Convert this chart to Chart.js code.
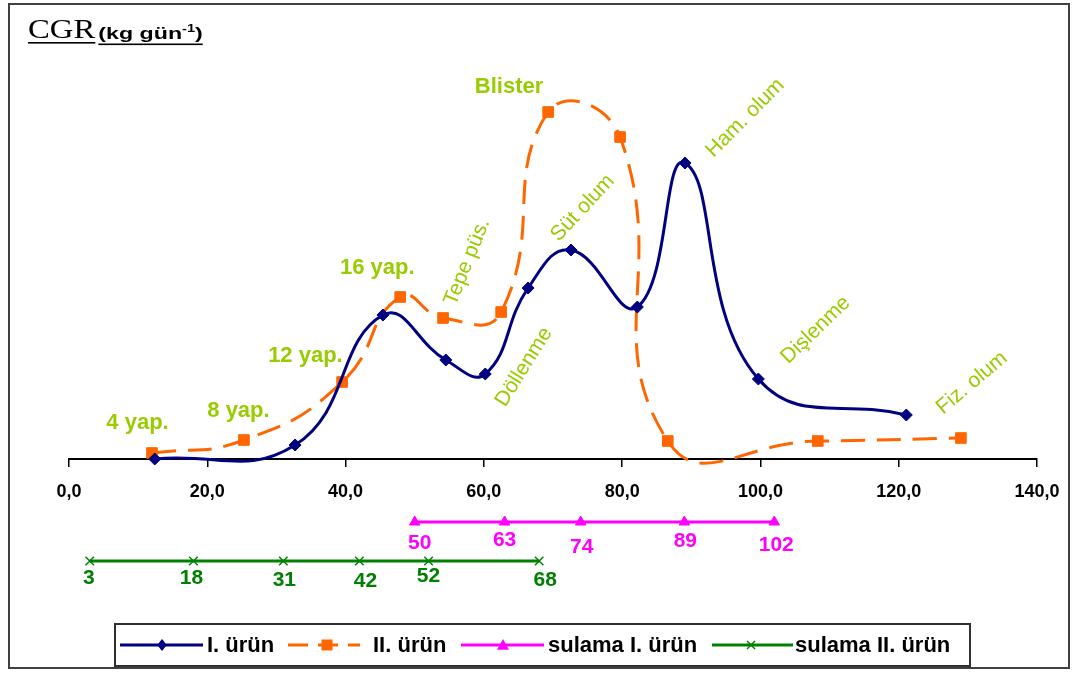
<!DOCTYPE html>
<html>
<head>
<meta charset="utf-8">
<title>CGR</title>
<script src="https://cdn.jsdelivr.net/npm/chart.js@4.4.1/dist/chart.umd.min.js"></script>
<style>
  html, body { margin: 0; padding: 0; background: #ffffff; }
  #wrap { position: relative; width: 1077px; height: 675px; }
</style>
</head>
<body>
<div id="wrap"><canvas id="cgr" width="1077" height="675"></canvas></div>
<script>
// Crop growth rate over days after sowing, first and second crop
const daysI   = [12.4, 32.7, 45.4, 54.5, 60.2, 66.4, 72.6, 82.2, 89.1, 99.7, 121.1];
const cgrI    = [0.0, 1.4, 14.4, 9.9, 8.5, 17.1, 20.9, 15.2, 29.6, 8.0, 4.4];
const daysII  = [12.0, 25.3, 39.5, 47.9, 54.1, 62.5, 69.3, 79.7, 86.6, 108.3, 129.0];
const cgrII   = [0.6, 1.9, 7.7, 16.2, 14.1, 14.7, 34.7, 32.2, 1.8, 1.8, 2.1];

// Irrigation dates, drawn as two strips below the axis
const irrigDaysI  = [50, 63, 74, 89, 102];
const irrigDaysII = [3, 18, 31, 42, 52, 68];
const irrigLevelI  = -6.3;
const irrigLevelII = -10.2;

const xTickLabels = ['0,0', '20,0', '40,0', '60,0', '80,0', '100,0', '120,0', '140,0'];
const seriesNames = ['I. ürün', 'II. ürün', 'sulama I. ürün', 'sulama II. ürün'];

// Growth stage notes placed in data space (day, cgr)
const stageNotes = [
  { text: '4 yap.',    x: 5.4,   y: 3.6,  angle: 0,   bold: true },
  { text: '8 yap.',    x: 20.0,  y: 4.8,  angle: 0,   bold: true },
  { text: '12 yap.',   x: 28.8,  y: 10.3, angle: 0,   bold: true },
  { text: '16 yap.',   x: 39.2,  y: 19.1, angle: 0,   bold: true },
  { text: 'Blister',   x: 58.7,  y: 37.2, angle: 0,   bold: true },
  { text: 'Tepe püs.', x: 57.6,  y: 19.7, angle: -68, bold: false },
  { text: 'Döllenme',  x: 65.8,  y: 9.2,  angle: -58, bold: false },
  { text: 'Süt olum',  x: 74.3,  y: 25.1, angle: -47, bold: false },
  { text: 'Ham. olum', x: 97.8,  y: 34.1, angle: -45, bold: false },
  { text: 'Dişlenme',  x: 108.0, y: 12.9, angle: -44, bold: false },
  { text: 'Fiz. olum', x: 130.6, y: 7.6,  angle: -40, bold: false }
];

const SANS = "'Liberation Sans', Arial, Helvetica, sans-serif";
const SERIF = "'Liberation Serif', 'Times New Roman', serif";
const NOTE_COLOR = '#99CC00';

const pts = (xs, ys) => xs.map((x, i) => ({ x: x, y: ys[i] }));
const flat = (xs, level) => xs.map(x => ({ x: x, y: level }));

// nudges for the irrigation day numbers, in pixels (dx, dy) from each marker
const irrigNudgeI  = [[5, 21], [0, 18], [1, 25], [1, 19], [2, 23]];
const irrigNudgeII = [[-1, 17], [-2, 17], [1, 19], [6, 20], [0, 15], [6, 19]];

function drawMarker(ctx, style, x, y, r, color, lw) {
  ctx.save();
  ctx.fillStyle = color;
  ctx.strokeStyle = color;
  ctx.lineWidth = lw || 1;
  ctx.setLineDash([]);
  ctx.beginPath();
  if (style === 'rectRot') {
    ctx.moveTo(x, y - r); ctx.lineTo(x + r * 0.8, y); ctx.lineTo(x, y + r); ctx.lineTo(x - r * 0.8, y); ctx.closePath();
    ctx.fill();
  } else if (style === 'rect') {
    ctx.rect(x - r, y - r, 2 * r, 2 * r); ctx.fill();
  } else if (style === 'triangle') {
    ctx.moveTo(x, y - r); ctx.lineTo(x + r, y + r * 0.8); ctx.lineTo(x - r, y + r * 0.8); ctx.closePath(); ctx.fill();
  } else if (style === 'crossRot') {
    ctx.moveTo(x - r, y - r); ctx.lineTo(x + r, y + r); ctx.moveTo(x + r, y - r); ctx.lineTo(x - r, y + r); ctx.stroke();
  }
  ctx.restore();
}

const pagePlugin = {
  id: 'page',
  beforeDraw(chart) {
    const ctx = chart.ctx;
    ctx.save();
    ctx.fillStyle = '#ffffff';
    ctx.fillRect(0, 0, chart.width, chart.height);
    ctx.strokeStyle = '#404040';
    ctx.lineWidth = 2;
    ctx.strokeRect(9, 4, 1060, 664);
    ctx.restore();
  },
  afterDraw(chart) {
    const ctx = chart.ctx;
    ctx.save();
    ctx.fillStyle = '#000000';
    ctx.textBaseline = 'alphabetic';
    ctx.textAlign = 'left';
    // "CGR" heading
    ctx.font = '28px ' + SERIF;
    const sx = 1.17;
    const wCGR = ctx.measureText('CGR').width * sx;
    ctx.save(); ctx.translate(28, 38); ctx.scale(sx, 1); ctx.fillText('CGR', 0, 0); ctx.restore();
    ctx.fillRect(28, 42, wCGR, 1.6);
    // unit
    const ux = 28 + wCGR + 3, us = 1.45;
    ctx.save(); ctx.translate(ux, 39); ctx.scale(us, 1);
    ctx.font = 'bold 16px ' + SANS;
    ctx.fillText('(kg gün', 0, 0);
    let u = ctx.measureText('(kg gün').width;
    ctx.font = 'bold 10px ' + SANS;
    ctx.fillText('-1', u, -7);
    u += ctx.measureText('-1').width;
    ctx.font = 'bold 16px ' + SANS;
    ctx.fillText(')', u, 0);
    u += ctx.measureText(')').width;
    ctx.restore();
    ctx.fillRect(ux, 43.5, u * us, 1.6);
    ctx.restore();

    // legend box
    const ds = chart.data.datasets;
    const lg = { left: 115, top: 624, width: 855, height: 42, y: 645,
      items: [ { a: 120, b: 203, m: 162, t: 207 }, { a: 288, b: 360, m: 327, t: 373 },
               { a: 461, b: 544, m: 503, t: 548 }, { a: 712, b: 793, m: 751, t: 795 } ] };
    ctx.save();
    ctx.strokeStyle = '#303030';
    ctx.lineWidth = 2;
    ctx.strokeRect(lg.left, lg.top, lg.width, lg.height);
    lg.items.forEach((it, i) => {
      const d = ds[i];
      ctx.save();
      ctx.strokeStyle = d.borderColor;
      ctx.lineWidth = d.borderWidth;
      ctx.setLineDash(d.borderDash ? [20, 10] : []);
      ctx.beginPath(); ctx.moveTo(it.a, lg.y); ctx.lineTo(it.b, lg.y); ctx.stroke();
      ctx.restore();
      drawMarker(ctx, d.pointStyle, it.m, lg.y, d.legendMarker, d.borderColor, 1.5);
      ctx.fillStyle = '#000000';
      ctx.font = 'bold 22px ' + SANS;
      ctx.textBaseline = 'middle';
      ctx.textAlign = 'left';
      ctx.fillText(d.label, it.t, lg.y + 1);
    });
    ctx.restore();
  },
  afterDatasetsDraw(chart) {
    const ctx = chart.ctx;
    const xs = chart.scales.x, ys = chart.scales.y;
    ctx.save();
    // irrigation day numbers
    ctx.font = 'bold 21px ' + SANS;
    ctx.textAlign = 'center';
    ctx.textBaseline = 'middle';
    [[2, irrigDaysI, irrigNudgeI], [3, irrigDaysII, irrigNudgeII]].forEach(([idx, days, nudge]) => {
      const meta = chart.getDatasetMeta(idx);
      ctx.fillStyle = chart.data.datasets[idx].borderColor;
      meta.data.forEach((p, i) => {
        ctx.fillText(String(days[i]), p.x + nudge[i][0], p.y + nudge[i][1]);
      });
    });
    // growth stage notes
    ctx.fillStyle = NOTE_COLOR;
    stageNotes.forEach(n => {
      const px = xs.getPixelForValue(n.x), py = ys.getPixelForValue(n.y);
      ctx.save();
      ctx.font = (n.bold ? 'bold 22px ' : '21px ') + SANS;
      ctx.textBaseline = 'middle';
      if (n.angle === 0) {
        ctx.textAlign = 'left';
        ctx.fillText(n.text, px, py);
      } else {
        ctx.translate(px, py);
        ctx.rotate(n.angle * Math.PI / 180);
        ctx.textAlign = 'center';
        ctx.fillText(n.text, 0, 0);
      }
      ctx.restore();
    });
    ctx.restore();
  }
};

new Chart(document.getElementById('cgr'), {
  type: 'line',
  data: {
    datasets: [
      { label: seriesNames[0], data: pts(daysI, cgrI), borderColor: '#000080', backgroundColor: '#000080',
        borderWidth: 3, pointStyle: 'rectRot', pointRadius: 6, pointBorderWidth: 1, tension: 0.45, legendMarker: 6 },
      { label: seriesNames[1], data: pts(daysII, cgrII), borderColor: '#FF6600', backgroundColor: '#FF6600',
        borderWidth: 3, borderDash: [24, 12], pointStyle: 'rect', pointRadius: 7.5, pointBorderWidth: 1, tension: 0.5, legendMarker: 5.5 },
      { label: seriesNames[2], data: flat(irrigDaysI, irrigLevelI), borderColor: '#FF00FF', backgroundColor: '#FF00FF',
        borderWidth: 3, pointStyle: 'triangle', pointRadius: 6, pointBorderWidth: 1, tension: 0, legendMarker: 6 },
      { label: seriesNames[3], data: flat(irrigDaysII, irrigLevelII), borderColor: '#008000', backgroundColor: '#008000',
        borderWidth: 3, pointStyle: 'crossRot', pointRadius: 6, pointBorderWidth: 1.5, tension: 0, legendMarker: 4 }
    ]
  },
  options: {
    responsive: false,
    animation: false,
    events: [],
    layout: { padding: { left: 69, right: 40, top: 49, bottom: 66 } },
    scales: {
      x: {
        type: 'linear', min: 0, max: 140, position: { y: 0 },
        ticks: {
          stepSize: 20, autoSkip: false, maxRotation: 0, padding: 15, color: '#000000',
          font: { family: SANS, size: 18, weight: 'bold' },
          callback: (v, i) => xTickLabels[i]
        },
        grid: { drawOnChartArea: false, drawTicks: true, tickLength: 7, color: '#000000', lineWidth: 1.5 },
        border: { display: true, color: '#000000', width: 2 }
      },
      y: { display: false, min: -15, max: 41 }
    },
    plugins: { legend: { display: false }, tooltip: { enabled: false } }
  },
  plugins: [pagePlugin]
});
</script>
</body>
</html>
